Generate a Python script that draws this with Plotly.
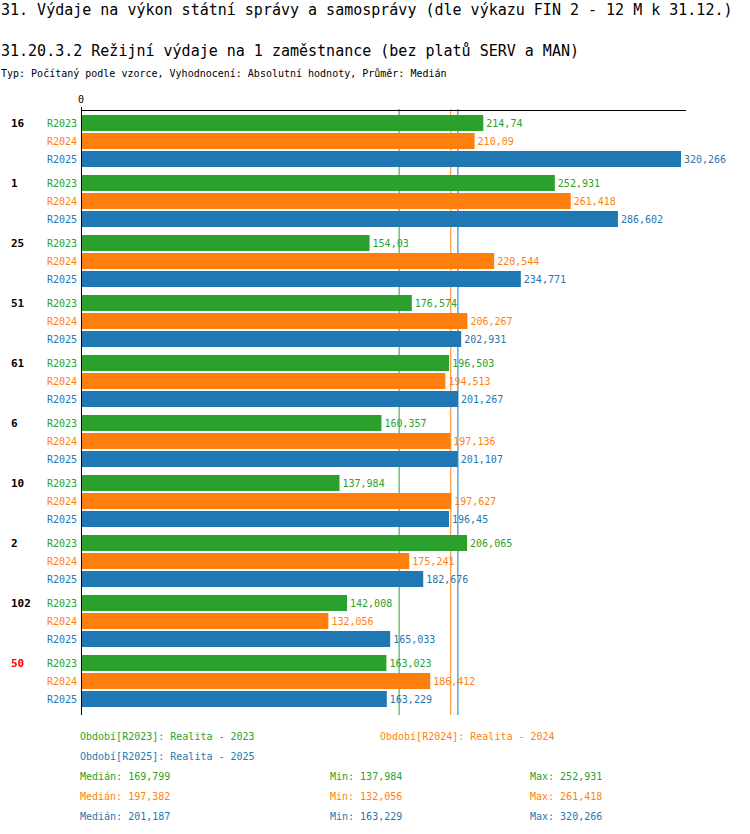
import plotly.graph_objects as go
from decimal import Decimal, ROUND_HALF_UP

# data
groups = ["16", "1", "25", "51", "61", "6", "10", "2", "102", "50"]
series_names = ["R2023", "R2024", "R2025"]
legend_texts = ["Období[R2023]: Realita - 2023",
                "Období[R2024]: Realita - 2024",
                "Období[R2025]: Realita - 2025"]
r2023 = [214.74, 252.931, 154.03, 176.574, 196.503, 160.357, 137.984, 206.065, 142.008, 163.023]
r2024 = [210.09, 261.418, 220.544, 206.267, 194.513, 197.136, 197.627, 175.241, 132.056, 186.412]
r2025 = [320.266, 286.602, 234.771, 202.931, 201.267, 201.107, 196.45, 182.676, 165.033, 163.229]
highlight = "50"

colors = ["#2ca02c", "#ff7f0e", "#1f77b4"]
series = [r2023, r2024, r2025]
FONT = "DejaVu Sans Mono"

W, H = 750, 834
L, R, T, B = 81, 64, 111, 123
PW, PH = W - L - R, H - T - B
pos = list(range(len(groups)))  # row index of each group


def px(x):
    return (x - L) / PW


def py(y):
    return (H - B - y) / PH


def fmt(v):
    return str(v).replace(".", ",")


def median(vals):
    s = sorted(Decimal(str(v)) for v in vals)
    n = len(s)
    return s[n // 2] if n % 2 else (s[n // 2 - 1] + s[n // 2]) / 2


def fmt3(d):
    d = d.quantize(Decimal("0.001"), rounding=ROUND_HALF_UP).normalize()
    return str(d).replace(".", ",")


fig = go.Figure()
for name, vals, col in zip(series_names, series, colors):
    fig.add_trace(go.Bar(
        y=pos, x=vals, orientation="h", name=name,
        marker=dict(color=col, line=dict(width=0)),
        text=[fmt(v) for v in vals], textposition="outside",
        textfont=dict(color=col, size=10, family=FONT),
        cliponaxis=False, showlegend=False,
    ))

annotations = []
# header
annotations.append(dict(text="31. Výdaje na výkon státní správy a samosprávy (dle výkazu FIN 2 - 12 M k 31.12.)",
                        x=px(-1), y=py(10), font=dict(size=15, color="black", family=FONT)))
annotations.append(dict(text="31.20.3.2 Režijní výdaje na 1 zaměstnance (bez platů SERV a MAN)",
                        x=px(-1), y=py(51), font=dict(size=15, color="black", family=FONT)))
annotations.append(dict(text="Typ: Počítaný podle vzorce, Vyhodnocení: Absolutní hodnoty, Průměr: Medián",
                        x=px(-1), y=py(73), font=dict(size=10, color="black", family=FONT)))
for a in annotations:
    a.update(xref="paper", yref="paper", xanchor="left", yanchor="middle", showarrow=False)

# group and series labels
for i, g in zip(pos, groups):
    annotations.append(dict(text="<b>%s</b>" % g, xref="paper", yref="y", x=px(9), y=i,
                            yshift=18, xanchor="left", yanchor="middle", showarrow=False,
                            font=dict(size=11, family=FONT, color="red" if g == highlight else "black")))
    for k, (name, col) in enumerate(zip(series_names, colors)):
        annotations.append(dict(text=name, xref="x", yref="y", x=0, y=i, xshift=-2,
                                yshift=18 - 18 * k, xanchor="right", yanchor="middle", showarrow=False,
                                font=dict(size=10, family=FONT, color=col)))

# footer legend
leg_pos = [(78, 736), (378, 736), (78, 756)]
for txt, col, (xx, yy) in zip(legend_texts, colors, leg_pos):
    annotations.append(dict(text=txt, xref="paper", yref="paper", x=px(xx), y=py(yy),
                            xanchor="left", yanchor="middle", showarrow=False,
                            font=dict(size=10, family=FONT, color=col)))

shapes = []
for k, (vals, col) in enumerate(zip(series, colors)):
    med = median(vals)
    yy = 776 + 20 * k
    stats = [("Medián: " + fmt3(med), 78),
             ("Min: " + fmt(min(vals)), 328),
             ("Max: " + fmt(max(vals)), 528)]
    for txt, xx in stats:
        annotations.append(dict(text=txt, xref="paper", yref="paper", x=px(xx), y=py(yy),
                                xanchor="left", yanchor="middle", showarrow=False,
                                font=dict(size=10, family=FONT, color=col)))
    shapes.append(dict(type="line", xref="x", yref="paper", x0=float(med), x1=float(med),
                       y0=-4 / PH, y1=1 + 2 / PH, layer="below",
                       line=dict(color=col, width=1)))

# left axis line
shapes.append(dict(type="line", xref="x", yref="paper", x0=0, x1=0, y0=-4 / PH, y1=1 + 4 / PH,
                   line=dict(color="black", width=2)))

fig.update_layout(
    width=W, height=H, autosize=False,
    margin=dict(l=L, r=R, t=T, b=B),
    paper_bgcolor="white", plot_bgcolor="white",
    barmode="group", bargap=0.1, bargroupgap=2 / 18,
    font=dict(family=FONT, size=10, color="black"),
    annotations=annotations, shapes=shapes,
    xaxis=dict(side="top", range=[0, PW / (600 / 320.266)], showgrid=False, zeroline=False,
               showline=True, linecolor="black", linewidth=1,
               tickvals=[0], ticktext=["0"], ticks="outside", ticklen=3, tickcolor="black",
               tickfont=dict(size=10, family=FONT)),
    yaxis=dict(range=[len(groups) - 0.5, -0.5], showgrid=False, zeroline=False,
               showticklabels=False, showline=False),
)

# drop the default body margin so the figure sits at the page corner
fig.write_html("out.html", config={"displayModeBar": False},
               post_script="document.body.style.margin='0';")
